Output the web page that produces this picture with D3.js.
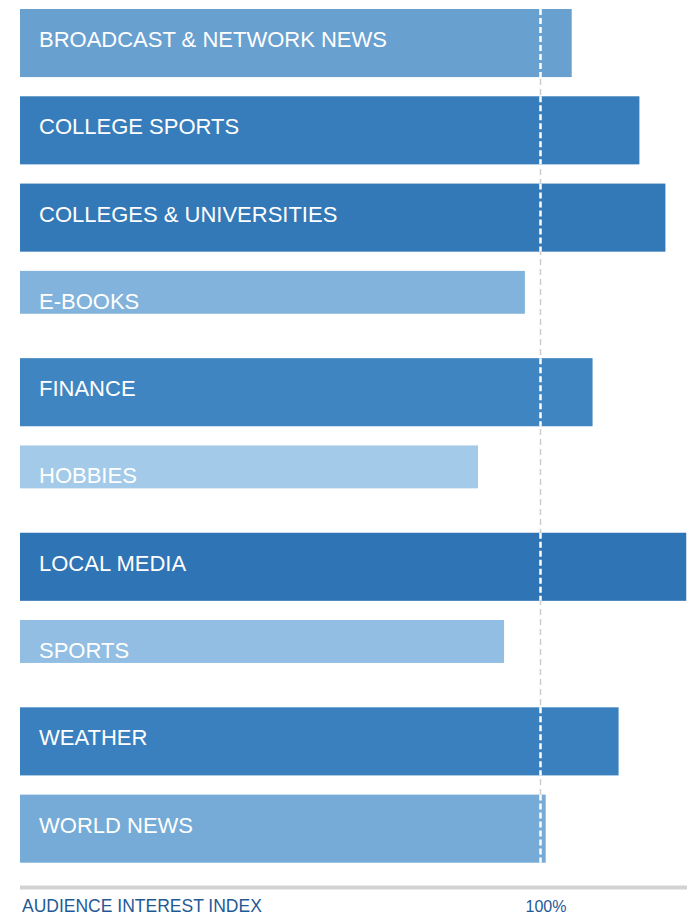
<!DOCTYPE html>
<html>
<head>
<meta charset="utf-8">
<script src="https://cdn.jsdelivr.net/npm/d3@7"></script>
<style>
  body { margin: 0; background: #fff; }
  svg { display: block; font-family: "Liberation Sans", Arial, sans-serif; }
</style>
</head>
<body>
<div id="chart"></div>
<script>
const categories = [
  "BROADCAST & NETWORK NEWS",
  "COLLEGE SPORTS",
  "COLLEGES & UNIVERSITIES",
  "E-BOOKS",
  "FINANCE",
  "HOBBIES",
  "LOCAL MEDIA",
  "SPORTS",
  "WEATHER",
  "WORLD NEWS"
];
const values = [106, 119, 124, 97, 110, 88, 128, 93, 115, 101];
const reference = 100;
const axisTitle = "AUDIENCE INTEREST INDEX";
const refLabel = "100%";

const w = 696;
const h = 916;
const svg = d3.select("#chart").append("svg").attr("width", w).attr("height", h);

const data = categories.map((c, i) => ({ name: c, value: values[i] }));

const x = d3.scaleLinear().domain([0, 100]).range([20, 540.5]);
const y = d3.scaleBand().domain(categories).range([9, 862.7]).paddingInner(0.22);
const color = d3
  .scaleLinear()
  .domain([88, 97, 106, 110, 128])
  .range(["#a3cbe9", "#82b3dc", "#68a0d0", "#3f85c2", "#2f74b4"]);

// short bars for values under the 100% line
const barH = (d) => (d.value < reference ? y.bandwidth() * 0.63 : y.bandwidth());

// grey reference line behind everything
svg
  .append("line")
  .attr("x1", x(reference))
  .attr("x2", x(reference))
  .attr("y1", y.range()[0])
  .attr("y2", y.range()[1])
  .attr("stroke", "#cccccc")
  .attr("stroke-width", 1.5)
  .attr("stroke-dasharray", "6,4");

const rows = svg.selectAll("g.row").data(data).enter().append("g").attr("class", "row");

rows
  .append("rect")
  .attr("x", x(0))
  .attr("y", (d) => y(d.name))
  .attr("width", (d) => x(d.value) - x(0))
  .attr("height", barH)
  .attr("fill", (d) => color(d.value));

// white dashes where the line crosses a bar
rows
  .filter((d) => d.value >= reference)
  .append("line")
  .attr("x1", x(reference))
  .attr("x2", x(reference))
  .attr("y1", (d) => y(d.name))
  .attr("y2", (d) => y(d.name) + barH(d))
  .attr("stroke", "#fff")
  .attr("stroke-width", 2.5)
  .attr("stroke-dasharray", "6,3");

rows
  .append("text")
  .attr("x", 39)
  .attr("y", (d) => y(d.name) + 38)
  .attr("fill", "#fff")
  .attr("font-size", 22)
  .text((d) => d.name);

// bottom axis bar
svg
  .append("rect")
  .attr("x", x(0))
  .attr("y", 885.5)
  .attr("width", 687 - x(0))
  .attr("height", 4)
  .attr("fill", "#d3d3d3");

svg
  .append("text")
  .attr("x", 22)
  .attr("y", 911.5)
  .attr("fill", "#1f5a97")
  .attr("font-size", 17.5)
  .text(axisTitle);

svg
  .append("text")
  .attr("x", x(reference) + 5.5)
  .attr("y", 911.5)
  .attr("text-anchor", "middle")
  .attr("fill", "#1f5a97")
  .attr("font-size", 16)
  .text(refLabel);
</script>
</body>
</html>
